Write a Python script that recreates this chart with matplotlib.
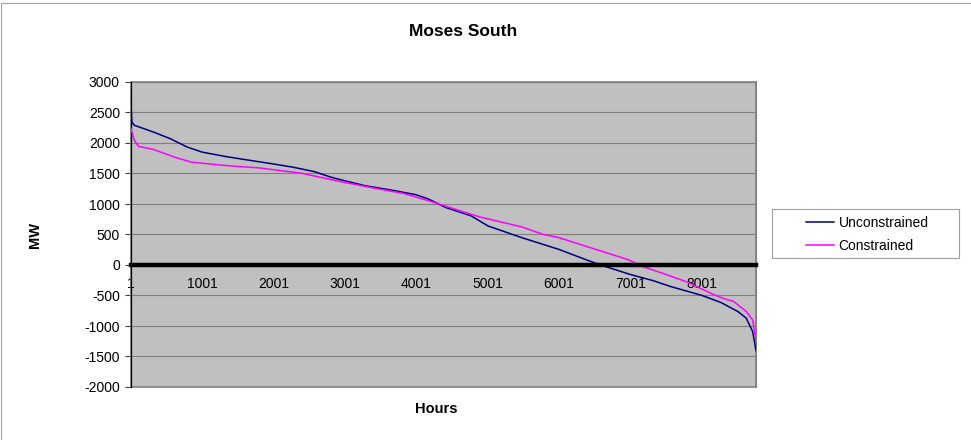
import matplotlib.pyplot as plt
from matplotlib.patches import Rectangle

plt.rcParams['font.family'] = ['Liberation Sans', 'DejaVu Sans']
plt.rcParams['axes.unicode_minus'] = False

# duration curve, hours sorted by flow
horas_libre = [1, 13, 48, 315, 553, 790, 1000, 1324, 1620, 1989, 2273, 2570, 2808,
               2990, 3283, 3698, 3995, 4173, 4410, 4767, 5004, 5478, 5775, 6000,
               6370, 6607, 7003, 7318, 7555, 8000, 8267, 8505, 8624, 8713, 8760]
mw_libre = [2648, 2345, 2290, 2180, 2070, 1933, 1850, 1779, 1724, 1658, 1603, 1531,
            1438, 1383, 1300, 1218, 1152, 1080, 943, 806, 640, 448, 338, 255,
            90, -9, -157, -256, -350, -498, -614, -762, -872, -1092, -1400]

horas_restr = [1, 48, 108, 315, 612, 850, 1324, 1799, 2392, 2986, 3401, 3817, 4173,
               4470, 4885, 5478, 5775, 6000, 6370, 6962, 7200, 7437, 7793, 8149,
               8327, 8445, 8624, 8713, 8760]
mw_restr = [2236, 2043, 1944, 1895, 1768, 1686, 1631, 1592, 1504, 1356, 1262, 1174,
            1053, 943, 789, 624, 503, 448, 310, 90, -36, -130, -278, -476,
            -559, -597, -762, -900, -1230]

ticks_x = [1, 1001, 2001, 3001, 4001, 5001, 6001, 7001, 8001]
ticks_y = [-2000, -1500, -1000, -500, 0, 500, 1000, 1500, 2000, 2500, 3000]

W, H = 971, 440
fig = plt.figure(figsize=(W / 100, H / 100), dpi=100)
ax = fig.add_axes([131 / W, 1 - 387 / H, (756 - 131) / W, (387 - 82) / H])
ax.set_facecolor('#C0C0C0')

ax.plot(horas_libre, mw_libre, color='#000080', lw=1.1, label='Unconstrained', zorder=5)
ax.plot(horas_restr, mw_restr, color='#FF00FF', lw=1.1, label='Constrained', zorder=5)

ax.set_xlim(1, 8760)
ax.set_ylim(-2000, 3000)
ax.set_yticks(ticks_y)
ax.set_xticks(ticks_x)
ax.set_xticklabels([str(t) for t in ticks_x])
ax.yaxis.grid(True, color='#808080', lw=0.8)
ax.set_axisbelow(True)

# eje de categorias cruza en cero
ax.spines['bottom'].set_position(('data', 0))
ax.spines['bottom'].set_linewidth(3.2)
ax.spines['bottom'].set_color('black')
ax.spines['bottom'].set_zorder(6)
ax.spines['left'].set_color('black')
ax.spines['left'].set_linewidth(0.9)
ax.spines['left'].set_zorder(4)
ax.spines['top'].set_color('#808080')
ax.spines['right'].set_color('#808080')
ax.add_patch(Rectangle((0, 0), 1, 1, transform=ax.transAxes, fill=False,
                       edgecolor='#808080', lw=1.2, zorder=2, clip_on=False))

ax.tick_params(axis='x', length=0, pad=9, labelsize=10)
ax.tick_params(axis='y', length=4, width=0.8, color='#404040', pad=4, labelsize=10)

fig.text(463 / W, 1 - 31 / H, 'Moses South', ha='center', va='center',
         fontsize=12.5, fontweight='bold')
fig.text(436 / W, 1 - 409 / H, 'Hours', ha='center', va='center',
         fontsize=10.5, fontweight='bold')
fig.text(35 / W, 1 - 235 / H, 'MW', ha='center', va='center', rotation=90,
         fontsize=10.5, fontweight='bold')

leg = fig.legend(loc='center left', bbox_to_anchor=(806 / W, 1 - 234.5 / H),
                 frameon=False, fontsize=10, handlelength=2.0, handletextpad=0.35,
                 labelspacing=0.6, borderpad=0, borderaxespad=0)
fig.patches.append(Rectangle((772 / W, 1 - 258 / H), (959 - 772) / W, (258 - 209) / H,
                             transform=fig.transFigure, fill=False,
                             edgecolor='#A0A0A0', lw=0.8))

# marco del grafico
fig.patches.append(Rectangle((1 / W, -0.1), 1.2, 1.1 - 3 / H, transform=fig.transFigure,
                             fill=False, edgecolor='#A0A0A0', lw=0.8))

fig.savefig('out.png', dpi=100)
